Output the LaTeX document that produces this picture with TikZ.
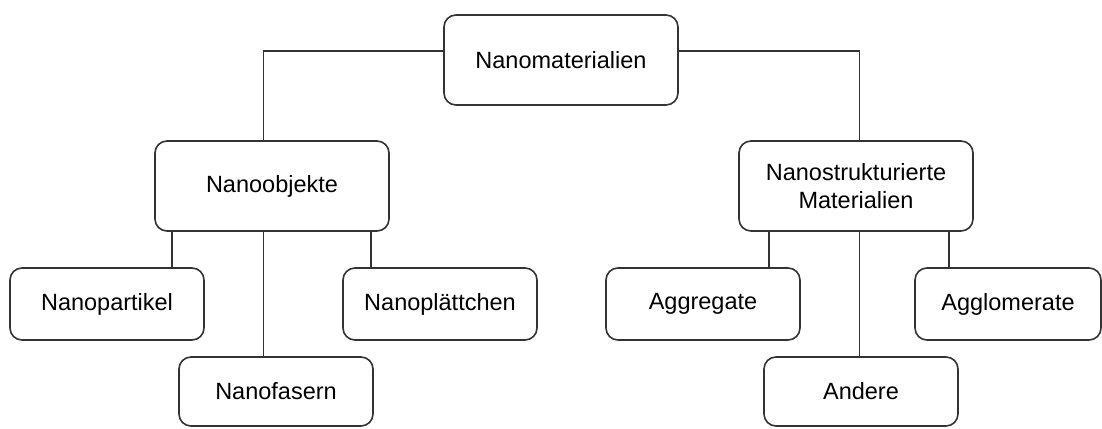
\documentclass[tikz,border=0pt]{standalone}
\usepackage{fontspec}
\setmainfont{Liberation Sans}
\usetikzlibrary{calc}
\begin{document}
\begin{tikzpicture}[x=1pt,y=-1pt,
  box/.style={draw=black!80, line width=1.6pt, rounded corners=12pt, fill=white,
    align=center, inner sep=0pt, font=\fontsize{23.5}{28}\selectfont},
  big/.style={box, minimum width=234pt, minimum height=90pt},
  small/.style={box, minimum width=194pt, minimum height=72pt},
  link/.style={draw=black!80, line width=1.5pt}]
\useasboundingbox (0,0) rectangle (1102,428);
\node[big] (nm) at (561,60) {Nanomaterialien};
\node[big] (no) at (272,186) {Nanoobjekte};
\node[big] (ns) at (856,186) {Nanostrukturierte\\Materialien};
\node[small] (np) at (107,304) {Nanopartikel};
\node[small] (npl) at (440,304) {Nanoplättchen};
\node[small, minimum height=69pt] (nf) at (276,391.5) {Nanofasern};
\node[small] (ag) at (703,304) {Aggregate};
\node[small, minimum width=186pt] (agl) at (1008,304) {Agglomerate};
\node[small, minimum height=69pt] (an) at (861,391.5) {Andere};
\coordinate (c1) at (263.5,0);
\coordinate (c2) at (859.5,0);
\coordinate (cl) at (172,0);
\coordinate (cr) at (371,0);
\coordinate (dl) at (769,0);
\coordinate (dr) at (949,0);
\coordinate (nmL) at ($(nm.north west)!0.4!(nm.south west)$);
\coordinate (nmR) at ($(nm.north east)!0.4!(nm.south east)$);
\draw[link] (nmL) -| (c1 |- no.north);
\draw[link] (nmR) -| (c2 |- ns.north);
\draw[link] (cl |- no.south) -- (cl |- np.north);
\draw[link] (c1 |- no.south) -- (c1 |- nf.north);
\draw[link] (cr |- no.south) -- (cr |- npl.north);
\draw[link] (dl |- ns.south) -- (dl |- ag.north);
\draw[link] (c2 |- ns.south) -- (c2 |- an.north);
\draw[link] (dr |- ns.south) -- (dr |- agl.north);
\end{tikzpicture}
\end{document}
